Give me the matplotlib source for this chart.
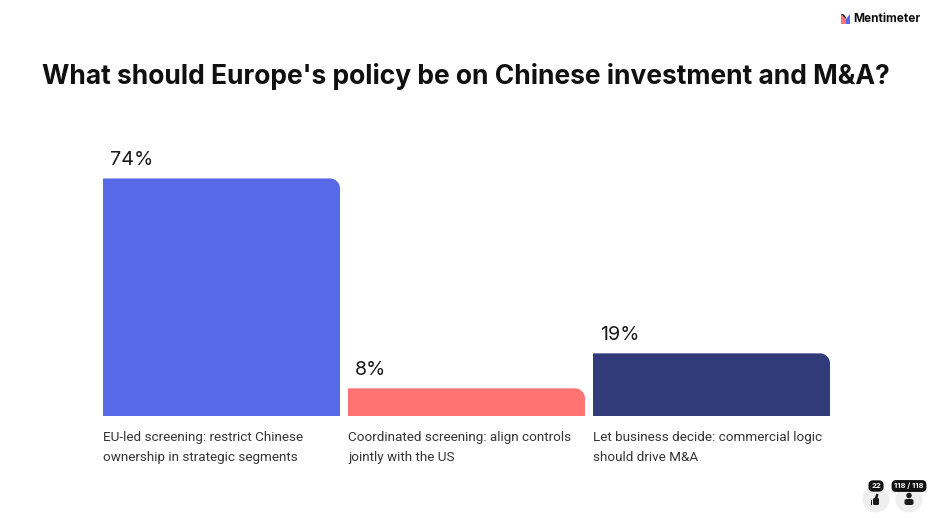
import matplotlib.pyplot as plt
from matplotlib.path import Path
from matplotlib.patches import PathPatch, Ellipse, FancyBboxPatch, Polygon

# data
title = "What should Europe's policy be on Chinese investment and M&A?"
categories = [
    "EU-led screening: restrict Chinese\nownership in strategic segments",
    "Coordinated screening: align controls\njointly with the US",
    "Let business decide: commercial logic\nshould drive M&A",
]
values = [74, 8, 19]
colors = ["#5769E6", "#FF7472", "#323B79"]
likes = 22
responses = "118 / 118"

W, H = 936, 518
fig = plt.figure(figsize=(W / 100, H / 100), dpi=100)
fig.patch.set_facecolor("white")


def fx(x):
    return x / W


def fy(y):
    return 1 - y / H


# bar area: baseline at y=416 px, 3.18 px per percent, small 2 px floor
px_per_unit = 3.18
floor = -0.7
ymax = 100
ax_bottom = 416
ax_height = (ymax - floor) * px_per_unit
ax = fig.add_axes([fx(103), fy(ax_bottom), fx(727), ax_height / H])
ax.set_xlim(-0.4837, 2.4837)
ax.set_ylim(floor, ymax)
ax.axis("off")

bar_w = 237 / 245
radius_px = 10
rx = radius_px / 245
ry = radius_px / px_per_unit
k = 0.5523

for i, (v, c) in enumerate(zip(values, colors)):
    x0, x1 = i - bar_w / 2, i + bar_w / 2
    y0, y1 = floor, v
    verts = [
        (x0, y0), (x0, y1), (x1 - rx, y1),
        (x1 - rx + k * rx, y1), (x1, y1 - ry + k * ry), (x1, y1 - ry),
        (x1, y0), (x0, y0),
    ]
    codes = [Path.MOVETO, Path.LINETO, Path.LINETO,
             Path.CURVE4, Path.CURVE4, Path.CURVE4,
             Path.LINETO, Path.CLOSEPOLY]
    ax.add_patch(PathPatch(Path(verts, codes), facecolor=c, edgecolor="none"))
    ax.annotate(f"{v}%", xy=(x0, v), xytext=(7, 13), textcoords="offset pixels",
                ha="left", va="baseline", fontsize=14.2, color="#1a1a1a",
                family="Inter")
    for j, line in enumerate(categories[i].split("\n")):
        ax.annotate(line, xy=(x0, floor), xytext=(0, -25 - 20 * j),
                    textcoords="offset pixels", ha="left", va="baseline",
                    fontsize=9.7, color="#333333", family="Roboto")

# title
fig.text(fx(42), fy(84), title, ha="left", va="baseline", fontsize=19,
         fontweight="bold", color="#101010", family="Inter")

# Mentimeter logo
fig.text(fx(853), fy(19), "Mentimeter", ha="left", va="center",
         fontsize=8.5, fontweight="bold", color="#101010", family="Inter")
fig.patches.append(Polygon([(fx(841), fy(24)), (fx(841), fy(14)),
                            (fx(846), fy(19)), (fx(846), fy(24))],
                           closed=True, transform=fig.transFigure,
                           facecolor="#FF7472", edgecolor="none"))
fig.patches.append(Polygon([(fx(846), fy(24)), (fx(846), fy(19)),
                            (fx(850), fy(14)), (fx(850), fy(24))],
                           closed=True, transform=fig.transFigure,
                           facecolor="#5769E6", edgecolor="none"))
fig.patches.append(Polygon([(fx(841), fy(14)), (fx(843), fy(14)),
                            (fx(846), fy(17)), (fx(846), fy(19))],
                           closed=True, transform=fig.transFigure,
                           facecolor="#101010", edgecolor="none"))

# bottom right widgets
for cx in (876, 909):
    fig.patches.append(Ellipse((fx(cx), fy(499)), 27 / W, 27 / H,
                               transform=fig.transFigure,
                               facecolor="#EFEFEF", edgecolor="none"))
# thumbs up
fig.patches.append(FancyBboxPatch((fx(873), fy(505)), 6 / W, 7 / H,
                                  boxstyle="round,pad=0,rounding_size=0.002",
                                  transform=fig.transFigure,
                                  facecolor="#1a1a1a", edgecolor="none"))
fig.patches.append(Polygon([(fx(874.5), fy(498.5)), (fx(876.5), fy(493.5)),
                            (fx(878.5), fy(494.5)), (fx(877.5), fy(498.5))],
                           closed=True, transform=fig.transFigure,
                           facecolor="#1a1a1a", edgecolor="none"))
fig.patches.append(FancyBboxPatch((fx(870.5), fy(505)), 1.7 / W, 5.5 / H,
                                  boxstyle="square,pad=0",
                                  transform=fig.transFigure,
                                  facecolor="#1a1a1a", edgecolor="none"))
# person
fig.patches.append(Ellipse((fx(909), fy(495.5)), 5.5 / W, 5.5 / H,
                           transform=fig.transFigure,
                           facecolor="#1a1a1a", edgecolor="none"))
fig.patches.append(FancyBboxPatch((fx(904.5), fy(505)), 9 / W, 6 / H,
                                  boxstyle="round,pad=0,rounding_size=0.003",
                                  transform=fig.transFigure,
                                  facecolor="#1a1a1a", edgecolor="none"))
# badges
fig.text(fx(876), fy(486), str(likes), ha="center", va="center",
         fontsize=5.5, fontweight="bold", color="white", family="Inter",
         bbox=dict(boxstyle="round,pad=0.35,rounding_size=0.6",
                   facecolor="#111111", edgecolor="none"))
fig.text(fx(909), fy(486), responses, ha="center", va="center",
         fontsize=5.5, fontweight="bold", color="white", family="Inter",
         bbox=dict(boxstyle="round,pad=0.35,rounding_size=0.6",
                   facecolor="#111111", edgecolor="none"))

fig.savefig("out.png", dpi=100, facecolor="white")
